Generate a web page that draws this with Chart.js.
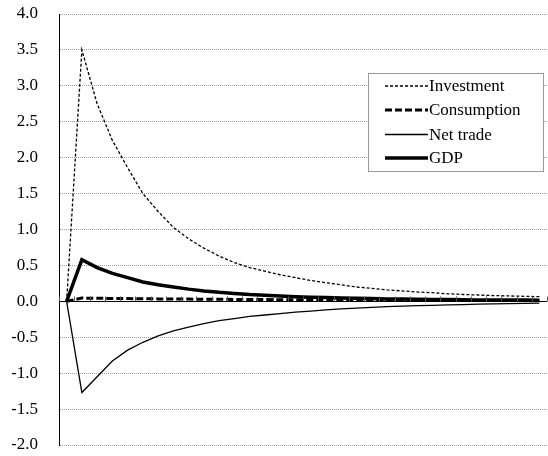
<!DOCTYPE html>
<html>
<head>
<meta charset="utf-8">
<script src="https://cdn.jsdelivr.net/npm/chart.js@4/dist/chart.umd.min.js"></script>
<style>
  html, body { margin: 0; padding: 0; background: #fff; }
  #wrap { width: 548px; height: 456px; position: relative; }
</style>
</head>
<body>
<div id="wrap"><canvas id="c" width="548" height="456"></canvas></div>
<script>
const periods = [0,1,2,3,4,5,6,7,8,9,10,11,12,13,14,15,16,17,18,19,20,21,22,23,24,25,26,27,28,29,30,31];
const seriesNames = ['Investment', 'Consumption', 'Net trade', 'GDP'];
const investment = [0, 3.5, 2.75, 2.24, 1.86, 1.5, 1.25, 1.03, 0.87, 0.74, 0.63, 0.54, 0.47, 0.42, 0.37, 0.33, 0.29, 0.26, 0.23, 0.2, 0.18, 0.16, 0.145, 0.13, 0.12, 0.105, 0.095, 0.088, 0.08, 0.075, 0.07, 0.065];
const consumption = [0, 0.045, 0.042, 0.04, 0.038, 0.036, 0.034, 0.032, 0.031, 0.029, 0.028, 0.027, 0.025, 0.024, 0.023, 0.022, 0.021, 0.02, 0.019, 0.018, 0.017, 0.016, 0.016, 0.015, 0.014, 0.014, 0.013, 0.012, 0.012, 0.011, 0.011, 0.01];
const netTrade = [0, -1.27, -1.05, -0.83, -0.68, -0.57, -0.48, -0.41, -0.36, -0.31, -0.27, -0.24, -0.21, -0.19, -0.17, -0.15, -0.135, -0.12, -0.105, -0.095, -0.085, -0.075, -0.068, -0.06, -0.055, -0.05, -0.045, -0.04, -0.036, -0.032, -0.029, -0.026];
const gdp = [0, 0.58, 0.47, 0.39, 0.33, 0.27, 0.23, 0.2, 0.17, 0.145, 0.125, 0.11, 0.095, 0.085, 0.075, 0.065, 0.058, 0.052, 0.047, 0.042, 0.038, 0.034, 0.031, 0.028, 0.026, 0.024, 0.022, 0.02, 0.019, 0.018, 0.017, 0.016];
const yMin = -2.0, yMax = 4.0, yStep = 0.5;

const FONT = '"Liberation Serif", "Times New Roman", serif';

const boxLegend = {
  id: 'boxLegend',
  afterDraw(chart) {
    const ctx = chart.ctx;
    const bx = 368.5, by = 73.5, bw = 175, bh = 98;
    ctx.save();
    ctx.fillStyle = '#fff';
    ctx.fillRect(bx, by, bw, bh);
    ctx.strokeStyle = '#9a9a9a';
    ctx.lineWidth = 1;
    ctx.strokeRect(bx, by, bw, bh);
    const ys = [86, 110, 134.5, 158];
    chart.data.datasets.forEach((ds, i) => {
      const y = ys[i];
      ctx.beginPath();
      ctx.setLineDash(ds.borderDash || []);
      ctx.lineWidth = ds.borderWidth;
      ctx.strokeStyle = ds.borderColor;
      ctx.moveTo(385, y);
      ctx.lineTo(428, y);
      ctx.stroke();
      ctx.setLineDash([]);
      ctx.fillStyle = '#000';
      ctx.font = '17px ' + FONT;
      ctx.textBaseline = 'middle';
      ctx.textAlign = 'left';
      ctx.fillText(ds.label, 429, y + 1);
    });
    ctx.restore();
  }
};

const xTicks = {
  id: 'xTicks',
  afterDatasetsDraw(chart) {
    const xs = chart.scales.x, ys = chart.scales.y;
    const ctx = chart.ctx;
    const y0 = Math.round(ys.getPixelForValue(0)) + 0.5;
    const half = (xs.getPixelForValue(1) - xs.getPixelForValue(0)) / 2;
    ctx.save();
    ctx.strokeStyle = '#555';
    ctx.lineWidth = 1;
    ctx.beginPath();
    for (let i = 0; i <= periods.length; i++) {
      const px = Math.round(xs.getPixelForValue(i) - half) + 0.5;
      ctx.moveTo(px, y0);
      ctx.lineTo(px, y0 - 5);
    }
    ctx.stroke();
    ctx.restore();
  }
};

new Chart(document.getElementById('c'), {
  type: 'line',
  data: {
    labels: periods,
    datasets: [
      { label: seriesNames[0], data: investment, borderColor: '#000', borderWidth: 1.3, borderDash: [3, 2] },
      { label: seriesNames[1], data: consumption, borderColor: '#000', borderWidth: 3, borderDash: [7, 3] },
      { label: seriesNames[2], data: netTrade, borderColor: '#000', borderWidth: 1.3 },
      { label: seriesNames[3], data: gdp, borderColor: '#000', borderWidth: 3.5 }
    ]
  },
  options: {
    responsive: false,
    animation: false,
    devicePixelRatio: 1,
    layout: { padding: { left: 12, right: 1, top: 14, bottom: 11 } },
    elements: { point: { radius: 0 }, line: { tension: 0, fill: false, borderCapStyle: 'butt', borderJoinStyle: 'miter' } },
    plugins: { legend: { display: false }, tooltip: { enabled: false } },
    scales: {
      x: {
        type: 'category',
        offset: true,
        display: false
      },
      y: {
        min: yMin,
        max: yMax,
        afterFit: s => { s.width = 47; s.paddingTop = 0; s.paddingBottom = 0; },
        ticks: {
          stepSize: yStep,
          padding: 21,
          color: '#000',
          font: { family: FONT, size: 17 },
          callback: v => v.toFixed(1)
        },
        grid: {
          drawTicks: false,
          color: ctx => (ctx.tick && ctx.tick.value === 0) ? '#000' : '#a0a0a0',
          lineWidth: 1
        },
        border: { display: true, color: '#000', width: 1, dash: ctx => (ctx.tick && ctx.tick.value === 0) ? [] : [1, 1] }
      }
    }
  },
  plugins: [xTicks, boxLegend]
});
</script>
</body>
</html>
